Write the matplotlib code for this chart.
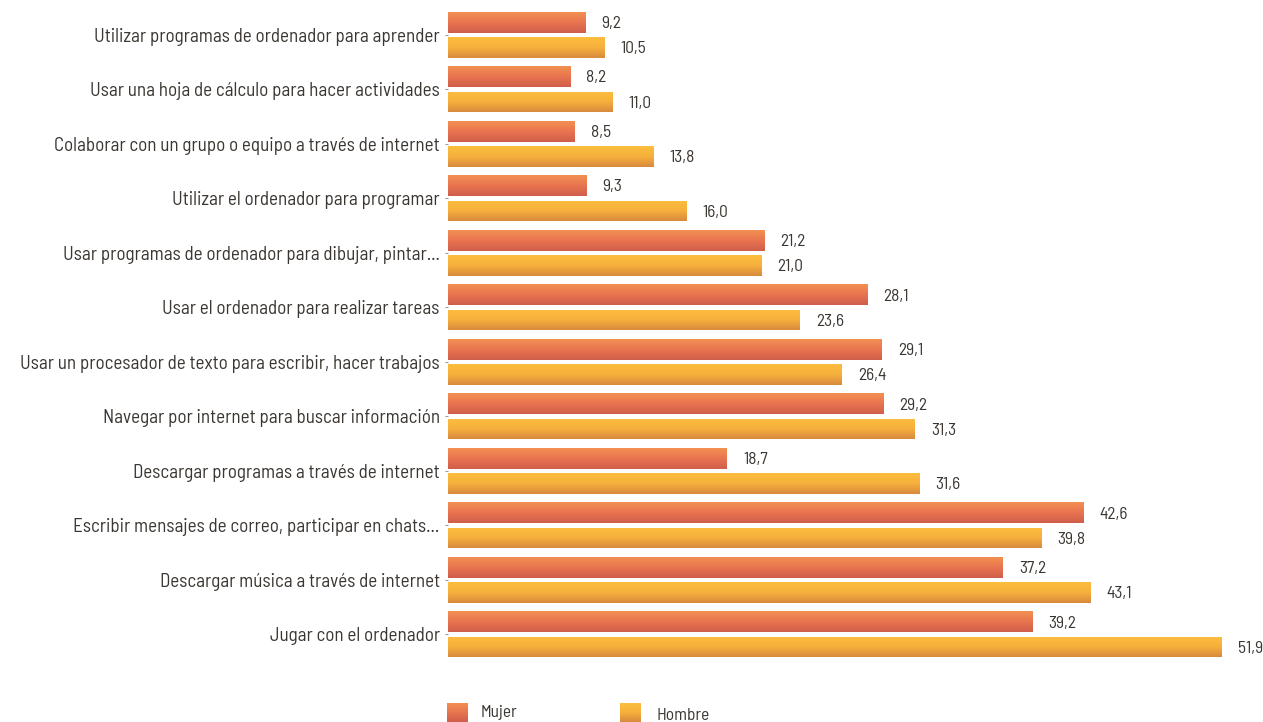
import numpy as np
import matplotlib
matplotlib.use("Agg")
import matplotlib.pyplot as plt
from matplotlib.colors import LinearSegmentedColormap
from matplotlib.transforms import ScaledTranslation

categories = [
    "Utilizar programas de ordenador para aprender",
    "Usar una hoja de cálculo para hacer actividades",
    "Colaborar con un grupo o equipo a través de internet",
    "Utilizar el ordenador para programar",
    "Usar programas de ordenador para dibujar, pintar...",
    "Usar el ordenador para realizar tareas",
    "Usar un procesador de texto para escribir, hacer trabajos",
    "Navegar por internet para buscar información",
    "Descargar programas a través de internet",
    "Escribir mensajes de correo, participar en chats...",
    "Descargar música a través de internet",
    "Jugar con el ordenador",
]
mujer = [9.2, 8.2, 8.5, 9.3, 21.2, 28.1, 29.1, 29.2, 18.7, 42.6, 37.2, 39.2]
hombre = [10.5, 11.0, 13.8, 16.0, 21.0, 23.6, 26.4, 31.3, 31.6, 39.8, 43.1, 51.9]
series_names = ["Mujer", "Hombre"]

W, H = 1263, 722
fig = plt.figure(figsize=(W / 100, H / 100), dpi=100)
px_per_unit = (1222 - 448) / 51.9
xmax = 54.0
left = 448 / W
width = xmax * px_per_unit / W
top_px, bot_px = 7.6, 661.7
ax = fig.add_axes([left, (H - bot_px) / H, width, (bot_px - top_px) / H])

font = dict(family=["Barlow Semi Condensed", "DejaVu Sans"])
text_color = "#3b3631"

cm_m = LinearSegmentedColormap.from_list("m", ["#F39052", "#E87450", "#D05E4A"])
cm_h = LinearSegmentedColormap.from_list("h", ["#FCBE3E", "#F6B03C", "#D88A3E"])
grad = np.linspace(0, 1, 64).reshape(-1, 1)

y = np.arange(len(categories))
off = 0.231
h = 0.38
down1 = ScaledTranslation(0, -1.2 / 100, fig.dpi_scale_trans)
down2 = ScaledTranslation(0, -2.0 / 100, fig.dpi_scale_trans)

for vals, dy, cmap in [(mujer, -off, cm_m), (hombre, off, cm_h)]:
    bars = ax.barh(y + dy, vals, height=h, color="none", edgecolor="none")
    for b, v in zip(bars, vals):
        x0, y0 = b.get_x(), b.get_y()
        im = ax.imshow(grad, cmap=cmap, aspect="auto",
                       extent=[x0, x0 + b.get_width(), y0 + b.get_height(), y0],
                       interpolation="bicubic", zorder=2)
        im.set_clip_path(b)
        ax.text(x0 + b.get_width() + 16 / px_per_unit, y0 + b.get_height() / 2,
                f"{v:.1f}".replace(".", ","), va="center", ha="left",
                fontsize=12.5, color=text_color, transform=ax.transData + down1,
                **font)

ax.set_xlim(0, xmax)
ax.set_ylim(len(categories) - 0.5, -0.5)
ax.set_yticks(y)
ax.set_yticklabels(categories, fontsize=13.7, color=text_color, **font)
for lab in ax.get_yticklabels():
    lab.set_transform(lab.get_transform() + down2)
ax.tick_params(axis="y", length=2, width=0.8, color="#999999", pad=4)
ax.set_xticks([])
for s in ax.spines.values():
    s.set_visible(False)

# legend
for name, cmap, sx, tx, ty in [("Mujer", cm_m, 447, 481, 712), ("Hombre", cm_h, 620, 657, 715)]:
    lax = fig.add_axes([sx / W, (H - 722) / H, 21 / W, 19 / H])
    lax.imshow(grad, cmap=cmap, aspect="auto", interpolation="bicubic")
    lax.axis("off")
    fig.text(tx / W, (H - ty) / H, name, fontsize=12.5, color=text_color,
             va="center", ha="left", **font)

fig.savefig("out.png", dpi=100)
